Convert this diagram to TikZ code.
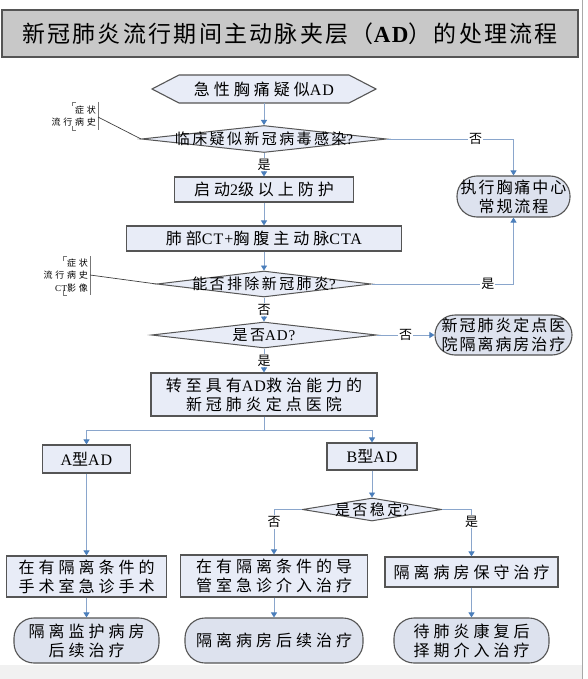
\documentclass[tikz,border=0pt]{standalone}
\usepackage{fontspec}
\setmainfont{Noto Sans CJK SC}
\newfontfamily\cjkwide[LetterSpace=25]{Noto Sans CJK SC}
\newfontfamily\cjknar[LetterSpace=12]{Noto Sans CJK SC}
\newfontfamily\cjkdia[LetterSpace=16]{Noto Sans CJK SC}
\newfontfamily\cjksmall[LetterSpace=30]{Noto Sans CJK SC}
\newfontfamily\cjktitle[LetterSpace=10]{Noto Sans CJK SC}
\newfontfamily\latfont[LetterSpace=6]{Liberation Serif}
\newcommand\lat[1]{{\latfont #1}}
\usetikzlibrary{arrows.meta,shapes.geometric}
\definecolor{boxfill}{HTML}{E8ECF7}
\definecolor{ellfill}{HTML}{DDE2EE}
\definecolor{edge}{HTML}{555555}
\definecolor{conn}{HTML}{8AA6CC}
\definecolor{tipc}{HTML}{4A7EBB}
\definecolor{titlefill}{HTML}{C8C8C8}
\definecolor{strip}{HTML}{F1F1F1}
\definecolor{pageedge}{HTML}{A8A8A8}
\tikzset{
  titlebox/.style={draw=edge, line width=1.2pt, fill=titlefill, inner sep=0pt,
    minimum width=576pt, minimum height=47pt, font={\cjktitle\fontsize{23}{26}\selectfont}},
  box/.style={draw=edge, line width=1.1pt, fill=boxfill, inner sep=0pt, align=center,
    font={\cjkwide\fontsize{16}{19}\selectfont}},
  stadium/.style={box, fill=ellfill, rounded corners=20pt},
  narrow/.style={font={\cjknar\fontsize{16}{19}\selectfont}},
  plaintext/.style={inner sep=0pt, align=center, font={\cjkwide\fontsize{16}{19}\selectfont}},
  hexshape/.style={draw=edge, line width=1.1pt, fill=boxfill},
  dia/.style={shape=diamond, draw=edge, line width=1pt, fill=boxfill, inner sep=0pt},
  dtext/.style={inner sep=0pt, font={\cjkdia\fontsize{15}{16}\selectfont}},
  ctext/.style={inner sep=0pt, align=right, font={\cjksmall\fontsize{9}{12.5}\selectfont}},
  callout/.style={draw=edge!80, line width=0.7pt},
  thinline/.style={draw=black!75, line width=0.7pt},
  link/.style={draw=conn, line width=0.9pt},
  arrowlink/.style={link, -{Triangle[width=6pt,length=5pt,color=tipc]}},
  lbl/.style={fill=white, inner sep=1pt, font={\fontsize{13}{13}\selectfont}},
}
\begin{document}
\begin{tikzpicture}[x=1pt,y=-1pt]
\useasboundingbox (0,0) rectangle (588,679);
\fill[white] (0,0) rectangle (588,679);
\fill[strip] (0,665) rectangle (582,679);
\draw[pageedge, line width=0.8pt] (582,0) -- (582,679);

% title
\node[titlebox] (title) at (290,33.5) {新冠肺炎流行期间主动脉夹层（{\latfont\bfseries AD}）的处理流程};

% start hexagon
\draw[hexshape] (152,89) -- (179,75) -- (349,75) -- (376,89) -- (349,103) -- (179,103) -- cycle;
\node[plaintext, minimum width=224pt, minimum height=28pt] (start) at (264,89) {急性胸痛疑似\lat{AD}};

% decision 1
\node[dia, minimum width=245pt, minimum height=27pt] (d1) at (264,139) {};
\node[dtext] (d1t) at (d1.center) {临床疑似新冠病毒感染\lat{?}};

% callout 1
\node[ctext, anchor=east] (c1) at (96,116) {症状\\流行病史};
\draw[callout] (76,102) -- (72,102) -- (72,106);
\draw[callout] (72,126) -- (72,130) -- (76,130);
\draw[callout] (98,102) -- (98,130);
\coordinate (c1p) at (98,117);
\draw[thinline] (c1p) -- (d1.west);

% routine chest pain flow
\node[stadium, narrow, minimum width=113pt, minimum height=41pt] (exec) at (513.5,196.5) {执行胸痛中心\\常规流程};

% protection
\node[box, minimum width=179pt, minimum height=25pt] (prot) at (264,189.5) {启动\lat{2}级以上防护};
\node[box, minimum width=275pt, minimum height=25pt] (ct) at (264,238.5) {肺部\lat{CT+}胸腹主动脉\lat{CTA}};

% decision 2
\node[dia, minimum width=214pt, minimum height=26pt] (d2) at (264,284) {};
\node[dtext] (d2t) at (d2.center) {能否排除新冠肺炎\lat{?}};

% callout 2
\node[ctext, anchor=east] (c2) at (88,275.5) {症状\\流行病史\\\lat{CT}影像};
\draw[callout] (67,256) -- (63,256) -- (63,261);
\draw[callout] (63,290) -- (63,295) -- (67,295);
\draw[callout] (90,256) -- (90,295);
\coordinate (c2p) at (90,275);
\draw[thinline] (c2p) -- (d2.west);

% decision 3
\node[dia, minimum width=225pt, minimum height=26pt] (d3) at (264,335) {};
\node[dtext] (d3t) at (d3.center) {是否\lat{AD?}};

\node[stadium, narrow, minimum width=137pt, minimum height=40pt] (iso) at (503.5,335) {新冠肺炎定点医\\院隔离病房治疗};

% transfer
\node[box, minimum width=226pt, minimum height=43pt] (transfer) at (264,394.5) {转至具有\lat{AD}救治能力的\\新冠肺炎定点医院};

% types
\node[box, minimum width=88pt, minimum height=28pt] (typeA) at (86.5,459) {\lat{A}型\lat{AD}};
\node[box, minimum width=90pt, minimum height=27pt] (typeB) at (372,456.5) {\lat{B}型\lat{AD}};

% decision 4
\node[dia, minimum width=139pt, minimum height=23pt] (d4) at (372,509.5) {};
\node[dtext] (d4t) at (d4.center) {是否稳定\lat{?}};

% treatments
\node[box, minimum width=160pt, minimum height=41pt] (b1) at (86.5,576.5) {在有隔离条件的\\手术室急诊手术};
\node[box, minimum width=187pt, minimum height=42pt] (b2) at (274,576) {在有隔离条件的导\\管室急诊介入治疗};
\node[box, minimum width=173pt, minimum height=30pt] (b3) at (471.5,572) {隔离病房保守治疗};

\node[stadium, minimum width=145pt, minimum height=45pt] (e1) at (86.5,640.5) {隔离监护病房\\后续治疗};
\node[stadium, minimum width=178pt, minimum height=45pt] (e2) at (274,640.5) {隔离病房后续治疗};
\node[stadium, minimum width=155pt, minimum height=45pt] (e3) at (471.5,640.5) {待肺炎康复后\\择期介入治疗};

% connectors
\draw[arrowlink] (start.south) -- (d1.north);
\draw[arrowlink] (d1.east) -| node[lbl, pos=0.35] {否} (exec.north);
\draw[arrowlink] (d1.south) -- node[lbl] {是} (prot.north);
\draw[arrowlink] (prot.south) -- (ct.north);
\draw[arrowlink] (ct.south) -- (d2.north);
\draw[arrowlink] (d2.east) -| node[lbl, pos=0.41] {是} (exec.south);
\draw[arrowlink] (d2.south) -- node[lbl] {否} (d3.north);
\draw[arrowlink] (d3.east) -- node[lbl] {否} (iso.west);
\draw[arrowlink] (d3.south) -- node[lbl] {是} (transfer.north);
\coordinate (br) at (264,430);
\draw[link] (transfer.south) -- (br);
\draw[arrowlink] (br) -| (typeA.north);
\draw[arrowlink] (br) -| (typeB.north);
\draw[arrowlink] (typeA.south) -- (b1.north);
\draw[arrowlink] (typeB.south) -- (d4.north);
\draw[arrowlink] (d4.west) -| node[lbl, pos=0.64] {否} (b2.north);
\draw[arrowlink] (d4.east) -| node[lbl, pos=0.63] {是} (b3.north);
\draw[arrowlink] (b1.south) -- (e1.north);
\draw[arrowlink] (b2.south) -- (e2.north);
\draw[arrowlink] (b3.south) -- (e3.north);
\end{tikzpicture}
\end{document}
